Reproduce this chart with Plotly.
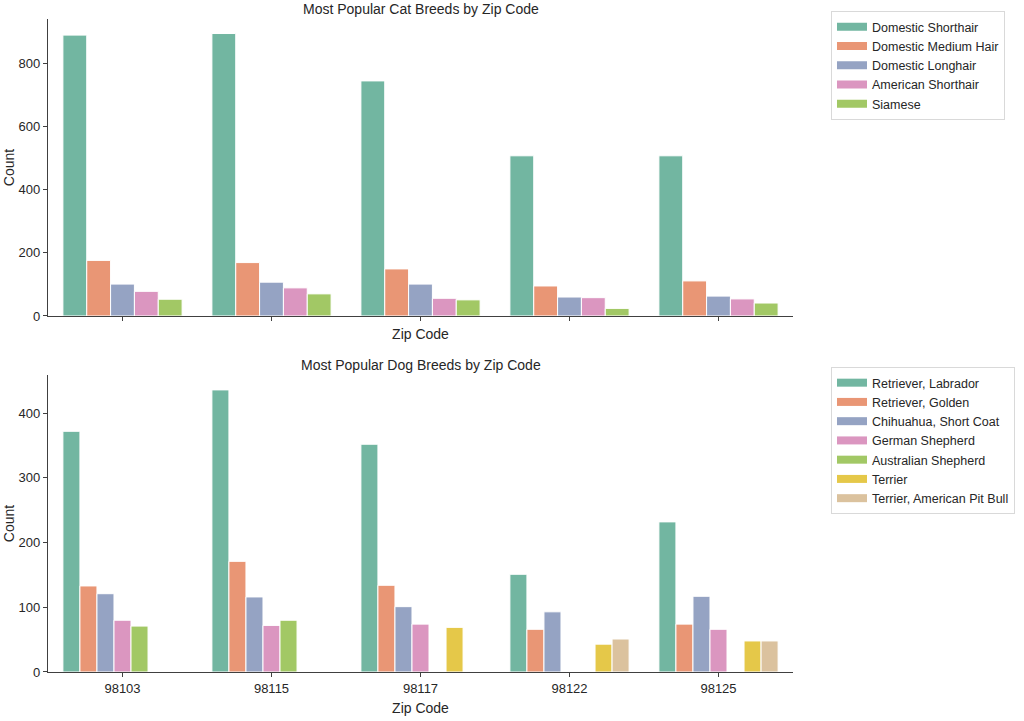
import colorsys
import plotly.graph_objects as go

zip_codes = ["98103", "98115", "98117", "98122", "98125"]

cat_breeds = ["Domestic Shorthair", "Domestic Medium Hair", "Domestic Longhair",
              "American Shorthair", "Siamese"]
cat_domestic_shorthair = [889, 894, 744, 507, 507]
cat_domestic_medium_hair = [176, 169, 149, 95, 111]
cat_domestic_longhair = [101, 107, 101, 60, 63]
cat_american_shorthair = [78, 89, 56, 58, 54]
cat_siamese = [53, 70, 51, 24, 41]

dog_breeds = ["Retriever, Labrador", "Retriever, Golden", "Chihuahua, Short Coat",
              "German Shepherd", "Australian Shepherd", "Terrier",
              "Terrier, American Pit Bull"]
dog_labrador = [372, 436, 352, 151, 232]
dog_golden = [133, 171, 134, 66, 74]
dog_chihuahua = [121, 116, 101, 93, 117]
dog_german_shepherd = [80, 72, 74, None, 66]
dog_australian_shepherd = [71, 80, None, None, None]
dog_terrier = [None, None, 69, 43, 48]
dog_pit_bull = [None, None, None, 51, 48]

cat_values = [cat_domestic_shorthair, cat_domestic_medium_hair, cat_domestic_longhair,
              cat_american_shorthair, cat_siamese]
dog_values = [dog_labrador, dog_golden, dog_chihuahua, dog_german_shepherd,
              dog_australian_shepherd, dog_terrier, dog_pit_bull]

set2 = ["#66c2a5", "#fc8d62", "#8da0cb", "#e78ac3", "#a6d854", "#ffd92f", "#e5c494"]


def desaturate(hex_color, prop=0.75):
    r, g, b = (int(hex_color[i:i + 2], 16) / 255 for i in (1, 3, 5))
    h, l, s = colorsys.rgb_to_hls(r, g, b)
    r, g, b = colorsys.hls_to_rgb(h, l, s * prop)
    return "rgb({:.0f},{:.0f},{:.0f})".format(r * 255, g * 255, b * 255)


colors = [desaturate(c) for c in set2]

FONT = "Liberation Sans, Arial, sans-serif"
TXT = "#262626"

fig = go.Figure()


def add_group(names, values, xa, ya, legend, prefix):
    for i, (name, vals) in enumerate(zip(names, values)):
        grp = prefix + str(i)
        fig.add_trace(go.Bar(
            x=zip_codes, y=vals, name=name, xaxis=xa, yaxis=ya,
            marker=dict(color=colors[i], line=dict(color="white", width=1)),
            legendgroup=grp, showlegend=False,
        ))
        # legend proxy: wide rectangle-like swatch
        fig.add_trace(go.Scatter(
            x=[None], y=[None], mode="lines", name=name, xaxis=xa, yaxis=ya,
            line=dict(color=colors[i], width=8),
            legendgroup=grp, legend=legend, hoverinfo="skip",
        ))


add_group(cat_breeds, cat_values, "x", "y", "legend", "cat")
add_group(dog_breeds, dog_values, "x2", "y2", "legend2", "dog")

axis_common = dict(
    showline=True, linecolor="#404040", linewidth=1.3, showgrid=False,
    zeroline=False, ticks="outside", ticklen=4, tickcolor="#404040",
    tickfont=dict(family=FONT, size=13, color=TXT), automargin=False,
)

legend_common = dict(
    xanchor="left", yanchor="top", bordercolor="#d9d9d9", borderwidth=1,
    font=dict(family=FONT, size=12.5, color=TXT), tracegroupgap=0,
    xref="paper", yref="paper",
)

fig.update_layout(
    width=1024, height=721,
    margin=dict(l=48, r=231, t=19, b=49, autoexpand=False),
    paper_bgcolor="white", plot_bgcolor="white",
    barmode="group", bargap=0.2, bargroupgap=0,
    font=dict(family=FONT, size=13, color=TXT),
    xaxis=dict(domain=[0, 1], anchor="y", type="category", range=[-0.5, 4.5],
               showticklabels=False,
               title=dict(text="Zip Code", font=dict(size=14), standoff=9),
               **axis_common),
    yaxis=dict(domain=[0.5452, 1], anchor="x", range=[0, 940],
               tickvals=[0, 200, 400, 600, 800],
               title=dict(text="Count", font=dict(size=14), standoff=0),
               **axis_common),
    xaxis2=dict(domain=[0, 1], anchor="y2", type="category", range=[-0.5, 4.5],
                title=dict(text="Zip Code", font=dict(size=14), standoff=8),
                **axis_common),
    yaxis2=dict(domain=[0, 0.4548], anchor="x2", range=[0, 459],
                tickvals=[0, 100, 200, 300, 400],
                title=dict(text="Count", font=dict(size=14), standoff=0),
                **axis_common),
    legend=dict(x=1.051, y=1.012, **legend_common),
    legend2=dict(x=1.051, y=0.467, **legend_common),
    annotations=[
        dict(text="Most Popular Cat Breeds by Zip Code", x=0.5, y=1.0,
             xref="paper", yref="paper", xanchor="center", yanchor="bottom",
             yshift=0, showarrow=False, font=dict(family=FONT, size=14, color=TXT)),
        dict(text="Most Popular Dog Breeds by Zip Code", x=0.5, y=0.4548,
             xref="paper", yref="paper", xanchor="center", yanchor="bottom",
             yshift=0, showarrow=False, font=dict(family=FONT, size=14, color=TXT)),
    ],
)

# remove the browser's default 8px page margin so the figure fills the window exactly
fig.write_html("out.html",
               config={"displayModeBar": False},
               post_script="document.body.style.margin='0';"
                           "document.body.style.overflow='hidden';")
